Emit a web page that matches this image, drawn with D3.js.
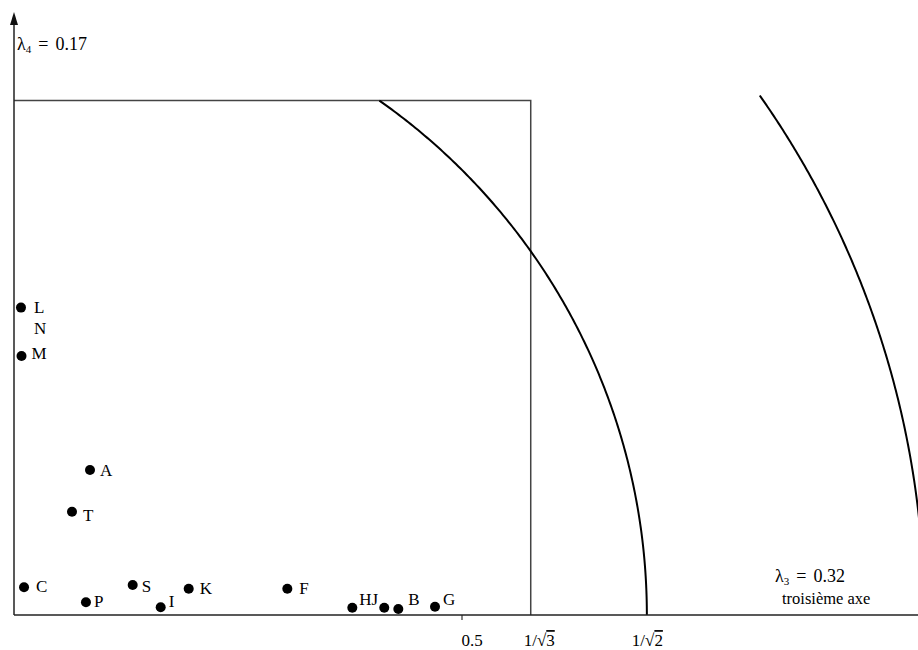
<!DOCTYPE html>
<html>
<head>
<meta charset="utf-8">
<script src="https://cdn.jsdelivr.net/npm/d3@7"></script>
<style>
  html, body { margin: 0; padding: 0; background: #fff; }
  svg { display: block; }
  text { font-family: "Liberation Serif", "Times New Roman", serif; fill: #000; }
</style>
</head>
<body>
<svg id="chart" width="918" height="650"></svg>
<script>
// ---- data ----
const pointLabels = ["L", "N", "M", "A", "T", "C", "P", "S", "I", "K", "F", "HJ", "", "B", "G"];
const axis3Values = [0.0078, 0.0078, 0.0084, 0.0849, 0.0648, 0.0112, 0.0804, 0.1326, 0.1639, 0.1952, 0.3054, 0.378, 0.4137, 0.4294, 0.4704];
const axis4Values = [0.345, 0.345, 0.2907, 0.1627, 0.1159, 0.0311, 0.0143, 0.0337, 0.0086, 0.0295, 0.0295, 0.0082, 0.0082, 0.0067, 0.0093];
const xTickValues = [0.5, 1 / Math.sqrt(3), 1 / Math.SQRT2];
const xTickLabels = ["0.5", "1/√3", "1/√2"];
const boxSide = 1 / Math.sqrt(3);
const arcRadii = [1 / Math.SQRT2, 1.017];
const arcTops = [1 / Math.sqrt(3), 0.583];
const lambda4Label = "0.17";
const lambda3Label = "0.32";
const axis3Name = "troisième axe";

// label offsets (style)
const labelOffset = {
  "L": [13, 5], "N": [13, 26], "M": [10, 3], "A": [10, 6], "T": [11, 9], "C": [12, 5],
  "P": [8, 5], "S": [9, 7], "I": [8, 0], "K": [11, 5], "F": [12, 5], "HJ": [7, -3],
  "": [0, 0], "B": [10, -4], "G": [8, -2]
};

// ---- scales ----
const svg = d3.select("#chart");
const x = d3.scaleLinear().domain([0, 1]).range([14, 909]);
const y = d3.scaleLinear().domain([0, 1]).range([615, -276]);

// box
svg.append("path")
  .attr("d", `M${x(0)},${y(boxSide)}H${x(boxSide)}V${y(0)}`)
  .attr("fill", "none").attr("stroke", "#444").attr("stroke-width", 1.5);

// arcs
arcRadii.forEach((r, i) => {
  const tMax = Math.asin(arcTops[i] / r);
  const pts = d3.range(0, 201).map(k => {
    const t = tMax * k / 200;
    return [r * Math.cos(t), r * Math.sin(t)];
  });
  svg.append("path")
    .attr("d", d3.line().x(d => x(d[0])).y(d => y(d[1]))(pts))
    .attr("fill", "none").attr("stroke", "#000").attr("stroke-width", 2);
});

// x axis
const xAxis = d3.axisBottom(x).tickValues(xTickValues)
  .tickFormat((d, i) => xTickLabels[i]).tickSize(5).tickPadding(14);
const gx = svg.append("g").attr("transform", `translate(0,${y(0)})`).call(xAxis);
gx.select(".domain").remove();
gx.selectAll(".tick line").attr("stroke", "#333").attr("stroke-width", 1.2)
  .attr("opacity", (d, i) => i === 0 ? 1 : 0);
gx.selectAll(".tick text").attr("font-family", "Liberation Serif, serif").attr("font-size", 17)
  .attr("fill", "#000").attr("dx", (d, i) => [10, 8, 0][i]).text(null)
  .each(function (d, i) {
    const t = d3.select(this);
    if (i === 0) { t.text(xTickLabels[0]); return; }
    const lbl = xTickLabels[i];
    t.append("tspan").text(lbl.slice(0, 3));
    t.append("tspan").text(lbl.slice(3)).style("text-decoration", "overline");
  });

svg.append("line")
  .attr("x1", x(0)).attr("x2", 918).attr("y1", y(0)).attr("y2", y(0))
  .attr("stroke", "#222").attr("stroke-width", 1.5);

// y axis with arrow
svg.append("line")
  .attr("x1", x(0)).attr("x2", x(0)).attr("y1", y(0)).attr("y2", 18)
  .attr("stroke", "#222").attr("stroke-width", 1.5);
svg.append("path")
  .attr("d", `M${x(0)},12L${x(0) - 4},25L${x(0) + 4},25Z`)
  .attr("fill", "#111");

// axis labels
function lambdaLabel(xp, yp, sub, val) {
  const t = svg.append("text").attr("x", xp).attr("y", yp).attr("font-size", 18);
  t.append("tspan").text("λ");
  t.append("tspan").text(sub).attr("font-size", 11).attr("dy", 3);
  t.append("tspan").text("=").attr("dy", -3).attr("dx", 7);
  t.append("tspan").text(val).attr("dx", 7);
  return t;
}
lambdaLabel(17, 50, "4", lambda4Label);
lambdaLabel(775, 582, "3", lambda3Label);
svg.append("text").attr("x", 782).attr("y", 604).attr("font-size", 16.5).text(axis3Name);

// points
const pts = pointLabels.map((lab, i) => ({ lab, vx: axis3Values[i], vy: axis4Values[i] }));
svg.selectAll("circle.pt").data(pts.filter(d => d.lab !== "N")).join("circle")
  .attr("class", "pt")
  .attr("cx", d => x(d.vx)).attr("cy", d => y(d.vy)).attr("r", 5)
  .attr("fill", "#000");
svg.selectAll("text.lab").data(pts.filter(d => d.lab !== "")).join("text")
  .attr("class", "lab")
  .attr("x", d => x(d.vx) + labelOffset[d.lab][0])
  .attr("y", d => y(d.vy) + labelOffset[d.lab][1])
  .attr("font-size", 17)
  .text(d => d.lab);
</script>
</body>
</html>
